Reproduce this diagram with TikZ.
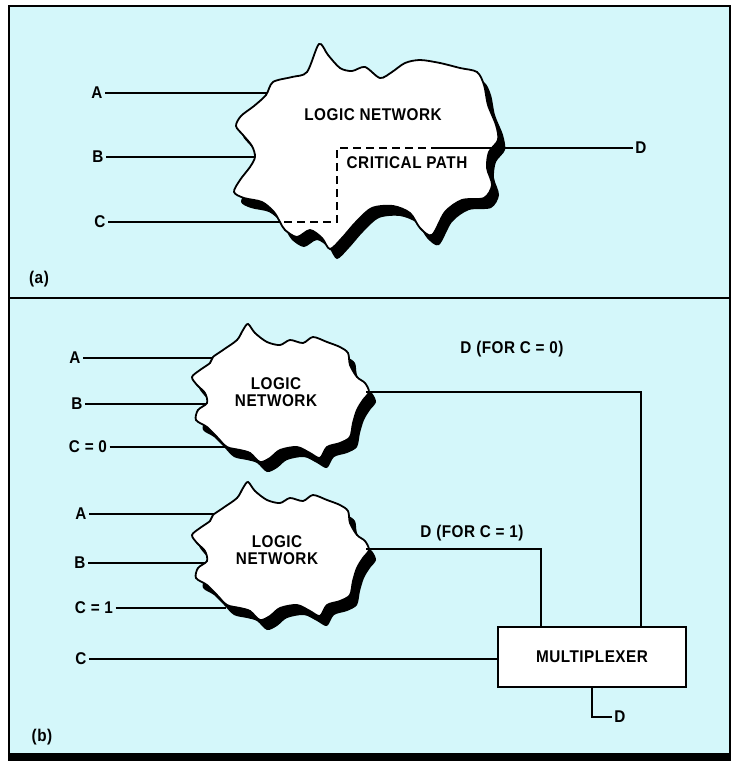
\documentclass[tikz,border=0pt]{standalone}
\usepackage{fontspec}
\setmainfont{Liberation Sans}[FakeStretch=0.9, LetterSpace=3]
\definecolor{bgc}{RGB}{212,247,250}
\newcommand\cloudAshape[1]{\path[#1] plot[smooth cycle, tension=0.5] coordinates {
(319,44) (328,55) (340,68) (352,71) (365,67) (380,78) (392,72) (405,63) (420,60)
(440,63) (460,68) (477,72) (484,85) (488,105) (496,125) (498,140) (489,152)
(487,168) (492,185) (484,198) (462,200) (445,212) (432,235) (420,228) (410,213)
(393,206) (372,208) (356,222) (342,238) (330,249) (322,238) (310,230) (297,237)
(285,230) (280,222) (274,212) (262,202) (244,198) (234,192) (240,180) (250,167)
(255,157) (252,146) (243,135) (236,126) (241,116) (254,106) (266,95) (273,82)
(292,77) (307,72)};}
\newcommand\cloudBshape[1]{\path[#1] plot[smooth cycle, tension=0.5] coordinates {
(248,324) (255,333) (267,342) (280,345) (290,340) (303,343) (313,337) (327,342)
(340,347) (348,353) (350,365) (357,377) (365,383) (369,392) (363,400) (357,410)
(353,423) (350,437) (340,443) (327,447) (320,458) (310,453) (297,447) (280,450)
(270,458) (260,462) (250,453) (240,450) (227,447) (217,437) (207,427) (196,420)
(198,410) (207,403) (205,393) (197,385) (192,377) (200,370) (210,363) (213,357)
(223,350) (237,340) (243,330)};}
\begin{document}
\begin{tikzpicture}[x=1pt,y=-1pt,
  sig/.style={line width=1.5pt},
  lbl/.style={font=\fontsize{17}{19}\selectfont\bfseries, inner sep=2.5pt},
  cloudbody/.style={fill=white, draw=black, line width=1.8pt},
  cloudshadow/.style={fill=black}]
\useasboundingbox (0,0) rectangle (735,761);
% frame
\fill[bgc] (9,5) rectangle (730,757);
\draw[line width=2pt] (9,757) -- (9,5.5) -- (730,5.5) -- (730,757);
\draw[line width=2pt] (9,297.5) -- (730,297.5);
\fill[black] (8,753) rectangle (731,761);

% ---------------- (a) ----------------
\cloudAshape{cloudshadow, shift={(7,10)}}
\node[lbl] (aA) at (97,93) {A};
\node[lbl] (aB) at (98,157) {B};
\node[lbl] (aC) at (100,222) {C};
\node[lbl] (aD) at (641,148) {D};
\coordinate (aAin) at (270,93);
\coordinate (aBin) at (258,157);
\coordinate (aCin) at (284,222);
\coordinate (aK1) at (337,222);
\coordinate (aK2) at (337,148);
\coordinate (aK3) at (432,148);
\draw[sig] (aA) -- (aAin);
\draw[sig] (aB) -- (aBin);
\draw[sig] (aC) -- (aCin);
\cloudAshape{cloudbody}
\draw[sig, dashed, dash pattern=on 8pt off 5pt] (aCin) -- (aK1) -- (aK2) -- (aK3);
\draw[sig] (aK3) -- (aD);
\node[lbl] (aLN) at (373,115) {LOGIC NETWORK};
\node[lbl] (aCP) at (407,163) {CRITICAL PATH};
\node[lbl] (alab) at (39,279) {(a)};

% ---------------- (b) ----------------
% upper logic network
\cloudBshape{cloudshadow, shift={(7,10)}}
\node[lbl] (b1A) at (75,358) {A};
\node[lbl] (b1B) at (77,404) {B};
\node[lbl] (b1C) at (88,447) {C = 0};
\coordinate (b1Ain) at (216,358);
\coordinate (b1Bin) at (210,404);
\coordinate (b1Cin) at (226,447);
\coordinate (b1out) at (366,392);
\draw[sig] (b1A) -- (b1Ain);
\draw[sig] (b1B) -- (b1Bin);
\draw[sig] (b1C) -- (b1Cin);
\cloudBshape{cloudbody}
\node[lbl, align=center] (b1LN) at (276,392) {LOGIC\\[-2pt]NETWORK};

% lower logic network
\cloudBshape{cloudshadow, shift={(7,168)}}
\node[lbl] (b2A) at (81,514) {A};
\node[lbl] (b2B) at (80,563) {B};
\node[lbl] (b2C) at (94,608) {C = 1};
\coordinate (b2Ain) at (216,514);
\coordinate (b2Bin) at (206,563);
\coordinate (b2Cin) at (226,608);
\coordinate (b2out) at (366,549);
\draw[sig] (b2A) -- (b2Ain);
\draw[sig] (b2B) -- (b2Bin);
\draw[sig] (b2C) -- (b2Cin);
\cloudBshape{cloudbody, shift={(0,158)}}
\node[lbl, align=center] (b2LN) at (277,550) {LOGIC\\[-2pt]NETWORK};

% multiplexer
\node[draw=black, fill=white, line width=2pt, minimum width=188pt, minimum height=60pt,
      font=\fontsize{17}{19}\selectfont\bfseries] (mux) at (592,657) {MULTIPLEXER};
\coordinate (m0) at (641,627);
\coordinate (m1) at (541,627);
\draw[sig] (b1out) -| (m0);
\draw[sig] (b2out) -| (m1);
\node[lbl] (d0) at (512,349) {D (FOR C = 0)};
\node[lbl] (d1) at (472,533) {D (FOR C = 1)};
\node[lbl] (bC) at (81,659) {C};
\draw[sig] (bC) -- (mux.west |- bC);
\node[lbl] (bD) at (620,717) {D};
\draw[sig] (mux.south) |- (bD);
\node[lbl] (blab) at (42,737) {(b)};
\end{tikzpicture}
\end{document}
